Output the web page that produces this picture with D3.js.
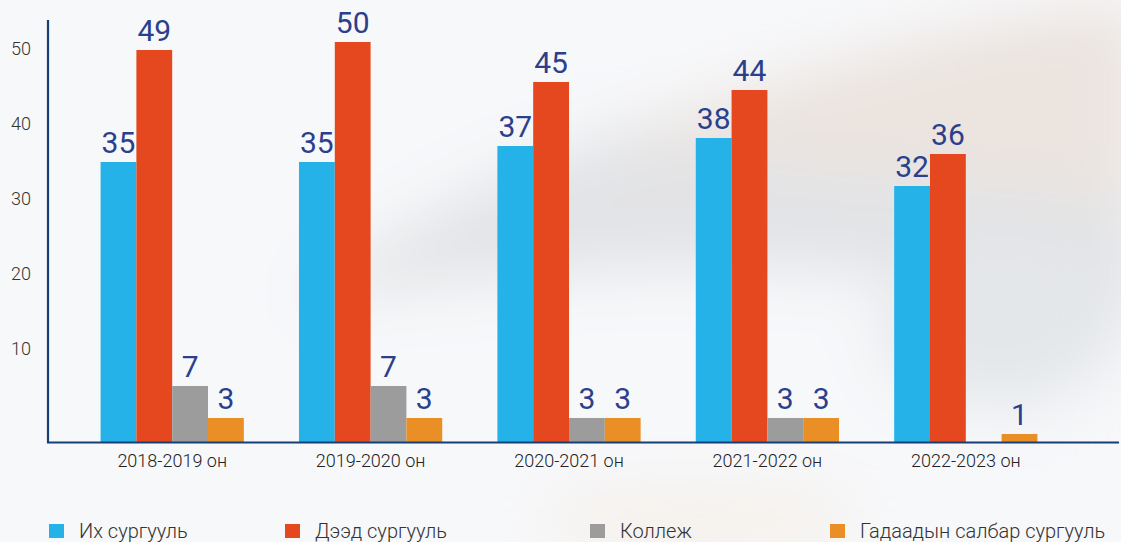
<!DOCTYPE html>
<html>
<head>
<meta charset="utf-8">
<script src="https://cdn.jsdelivr.net/npm/d3@7"></script>
<style>
  body { margin: 0; background: #f7f8fa; }
  svg { display: block; font-family: Roboto, "Noto Sans", sans-serif; }
</style>
</head>
<body>
<svg class="chart"></svg>
<script>
var years = ["2018-2019 он", "2019-2020 он", "2020-2021 он", "2021-2022 он", "2022-2023 он"];
var seriesNames = ["Их сургууль", "Дээд сургууль", "Коллеж", "Гадаадын салбар сургууль"];
var university = [35, 35, 37, 38, 32];
var higherSchool = [49, 50, 45, 44, 36];
var college = [7, 7, 3, 3, 0];
var foreignBranch = [3, 3, 3, 3, 1];
var yTicks = [10, 20, 30, 40, 50];

var colors = ["#25b2e9", "#e5481e", "#9c9c9c", "#e98f26"];
var series = [university, higherSchool, college, foreignBranch];

var W = 1121, H = 542;
var baseline = 442;

var svg = d3.select(".chart").attr("width", W).attr("height", H);

// soft blurred photo-like background
var defs = svg.append("defs");
defs.append("filter").attr("id", "blur")
  .attr("x", "-50%").attr("y", "-50%").attr("width", "200%").attr("height", "200%")
  .append("feGaussianBlur").attr("stdDeviation", 30);

var bg = svg.append("g").attr("filter", "url(#blur)");
bg.append("rect").attr("width", W).attr("height", H).attr("fill", "#f7f8fa");
bg.append("path")
  .attr("d", "M300,300 C500,150 700,80 1140,20 L1140,330 C900,260 700,250 300,300 Z")
  .attr("fill", "#e2e3e6");
bg.append("path")
  .attr("d", "M620,140 C780,70 950,20 1140,0 L1140,200 C950,180 800,170 620,140 Z")
  .attr("fill", "#ebe4df");
bg.append("ellipse").attr("cx", 1000).attr("cy", 330).attr("rx", 120).attr("ry", 80).attr("fill", "#e4e7ea");
bg.append("ellipse").attr("cx", 700).attr("cy", 520).attr("rx", 160).attr("ry", 30).attr("fill", "#f5efe8");

var x = d3.scaleBand()
  .domain(years)
  .range([73, 1065])
  .paddingInner(0.278)
  .paddingOuter(0.139);

var xInner = d3.scaleBand()
  .domain(d3.range(series.length))
  .range([0, x.bandwidth()]);

var y = d3.scaleLinear()
  .domain([0, 50])
  .range([baseline, baseline - 400]);

// tick labels sit on their own spacing in the original picture
var yTick = d3.scaleLinear()
  .domain([0, 50])
  .range([423, 48]);

var yAxis = d3.axisLeft(yTick)
  .tickValues(yTicks)
  .tickSize(0)
  .tickPadding(0);

svg.append("g")
  .attr("transform", "translate(31,0)")
  .call(yAxis)
  .call(function(g) { g.select(".domain").remove(); })
  .selectAll("text")
  .style("font-family", "Roboto, sans-serif")
  .style("font-size", "18px")
  .style("font-weight", 300)
  .style("fill", "#333")
  .attr("dy", "0.35em");

var groups = svg.selectAll("g.year")
  .data(years)
  .enter().append("g")
  .attr("class", "year")
  .attr("transform", function(d) { return "translate(" + x(d) + ",0)"; });

groups.each(function(yr, gi) {
  var g = d3.select(this);
  var vals = series.map(function(s) { return s[gi]; });
  g.selectAll("rect")
    .data(vals)
    .enter().append("rect")
    .attr("x", function(d, i) { return xInner(i); })
    .attr("width", xInner.bandwidth())
    .attr("y", function(d) { return y(d); })
    .attr("height", function(d) { return baseline - y(d); })
    .attr("fill", function(d, i) { return colors[i]; });
  g.selectAll("text.val")
    .data(vals)
    .enter().append("text")
    .attr("class", "val")
    .attr("x", function(d, i) { return xInner(i) + xInner.bandwidth() / 2; })
    .attr("y", function(d) { return y(d) - 9; })
    .attr("text-anchor", "middle")
    .style("font-size", "30px")
    .style("fill", "#2b3f8c")
    .text(function(d) { return d > 0 ? d : ""; });
});

// axes lines
svg.append("line")
  .attr("x1", 48).attr("x2", 48).attr("y1", 20).attr("y2", baseline + 1)
  .attr("stroke", "#173f77").attr("stroke-width", 2.2);
svg.append("line")
  .attr("x1", 47).attr("x2", 1119).attr("y1", baseline + 0.5).attr("y2", baseline + 0.5)
  .attr("stroke", "#173f77").attr("stroke-width", 2.2);

var xAxis = d3.axisBottom(x).tickSize(0).tickPadding(0);
svg.append("g")
  .attr("transform", "translate(0," + (baseline + 12) + ")")
  .call(xAxis)
  .call(function(g) { g.select(".domain").remove(); })
  .selectAll("text")
  .style("font-family", "Roboto, sans-serif")
  .style("font-size", "18px")
  .style("font-weight", 300)
  .style("fill", "#222")
  .attr("dy", "0.71em");

// legend
var legendX = [49, 285, 590, 830];
var legend = svg.selectAll("g.legend")
  .data(seriesNames)
  .enter().append("g")
  .attr("class", "legend")
  .attr("transform", function(d, i) { return "translate(" + legendX[i] + ",524)"; });

legend.append("rect")
  .attr("width", 15).attr("height", 14)
  .attr("fill", function(d, i) { return colors[i]; });

legend.append("text")
  .attr("x", 30)
  .attr("y", 14)
  .style("font-size", "20px")
  .style("font-weight", 300)
  .style("fill", "#333")
  .text(function(d) { return d; });
</script>
</body>
</html>
